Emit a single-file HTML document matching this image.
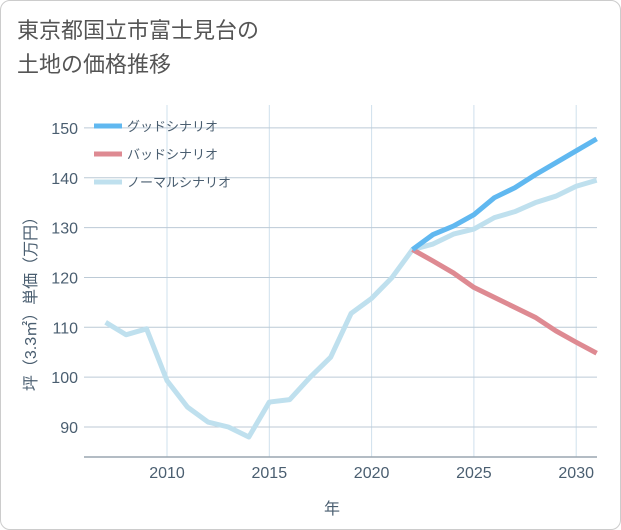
<!DOCTYPE html>
<html><head><meta charset="utf-8"><style>
body{margin:0;background:#fff;}
#card{position:absolute;left:0;top:0;width:619px;height:528px;border:1px solid #ccc;border-radius:10px;background:#fff;}
#title{position:absolute;left:17px;top:14px;font:22px "Liberation Sans","Noto Sans CJK JP",sans-serif;color:#555;line-height:34px;}
svg{position:absolute;left:0;top:0;}
text{font-family:"Liberation Sans","Noto Sans CJK JP",sans-serif;}
</style></head><body>
<div id="card"></div>
<div id="title">東京都国立市富士見台の<br>土地の価格推移</div>
<svg id="chart" width="621" height="530"></svg>
<script>
const normalYears=[2007,2008,2009,2010,2011,2012,2013,2014,2015,2016,2017,2018,2019,2020,2021,2022,2023,2024,2025,2026,2027,2028,2029,2030,2031];
const normalValues=[111,108.5,109.7,99.3,94,91,90,88,95,95.5,100,104,112.8,115.8,120,125.6,126.7,128.7,129.7,132,133.2,135,136.3,138.3,139.5];
const scenarioYears=[2022,2023,2024,2025,2026,2027,2028,2029,2030,2031];
const goodValues=[125.6,128.6,130.3,132.6,136,138,140.6,143,145.4,147.8];
const badValues=[125.6,123.3,120.9,118,116,114,112,109.3,107,104.8];
const xTicks=[2010,2015,2020,2025,2030];
const yTicks=[90,100,110,120,130,140,150];
const L=84,R=597,T=105,B=457;
const x=v=>167+(v-2010)*20.46;
const y=v=>427-(v-90)*4.985;
const svg=document.getElementById('chart');const NS='http://www.w3.org/2000/svg';
function mk(t,a,p){const e=document.createElementNS(NS,t);for(const k in a)e.setAttribute(k,a[k]);(p||svg).appendChild(e);return e;}
let e=mk('rect',{x:L,y:T,width:R-L,height:B-T,fill:'#fff'});


xTicks.forEach(v=>{e=mk('line',{x1:x(v),x2:x(v),y1:T,y2:B,stroke:'#cfe0ec','stroke-width':1});

});
yTicks.forEach(v=>{e=mk('line',{x1:L,x2:R,y1:y(v),y2:y(v),stroke:'#bccad6','stroke-width':1});

});
e=mk('line',{x1:L,x2:R,y1:B,y2:B,stroke:'#9aa6b0','stroke-width':1.5});


xTicks.forEach(v=>{e=mk('text',{x:x(v),y:478,'text-anchor':'middle','font-size':16,fill:'#4a5e70'});e.textContent=v;

});
yTicks.forEach(v=>{e=mk('text',{x:78,y:y(v)+6,'text-anchor':'end','font-size':16,fill:'#4a5e70'});e.textContent=v;

});
e=mk('text',{x:332,y:514,'text-anchor':'middle','font-size':16,fill:'#4a5e70'});e.textContent='年';


e=mk('text',{x:0,y:0,'text-anchor':'middle','font-size':16,fill:'#4a5e70',transform:'translate(36,300) rotate(-90)'});e.textContent='坪（3.3㎡）単価（万円）';


function line(xs,vs,c,name){const d=xs.map((v,i)=>(i?'L':'M')+x(v)+','+y(vs[i])).join('');const p=mk('path',{d:d,fill:'none',stroke:c,'stroke-width':5,'stroke-linejoin':'round'});

}
line(normalYears,normalValues,'#bfe0ee','normal-line');
line(scenarioYears,badValues,'#de8a92','bad-line');
line(scenarioYears,goodValues,'#60b8f0','good-line');
const leg=[['グッドシナリオ','#60b8f0'],['バッドシナリオ','#de8a92'],['ノーマルシナリオ','#bfe0ee']];
leg.forEach((l,i)=>{const g=mk('g',{});


mk('line',{x1:94,x2:122,y1:126+i*28,y2:126+i*28,stroke:l[1],'stroke-width':5},g);
const t=mk('text',{x:127,y:131+i*28,'font-size':13,fill:'#4a5e70'},g);t.textContent=l[0];});
</script>
</body></html>
